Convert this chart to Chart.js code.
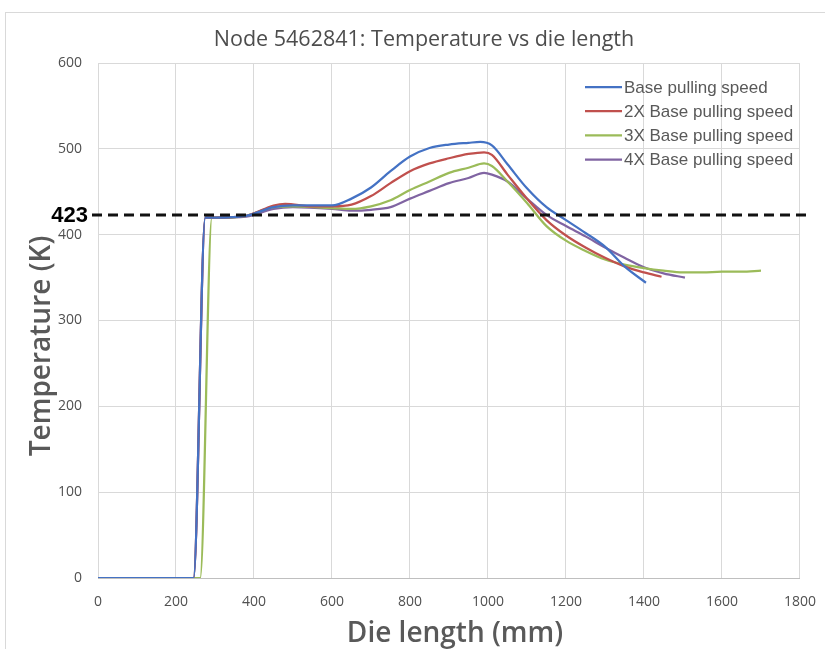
<!DOCTYPE html>
<html lang="en">
<head>
    <meta charset="UTF-8">
    <title>Node 5462841: Temperature vs die length</title>
    <script src="https://cdn.jsdelivr.net/npm/chart.js"></script>
    <style>
        body {
            margin: 0;
            background: #ffffff;
        }
        .frame {
            position: absolute;
            left: 5px;
            top: 12px;
            width: 840px;
            height: 660px;
            border: 1px solid #d9d9d9;
        }
        #tempChart {
            position: absolute;
            left: 0;
            top: 0;
        }
    </style>
</head>
<body>
    <div class="frame"></div>
    <canvas id="tempChart" width="825" height="649"></canvas>
    <script>
        // die length (mm) / temperature (K)
        var baseX = [0, 245, 275, 300, 380, 450, 500, 600, 650, 700, 750, 800, 850, 900, 950, 980, 1010, 1050, 1100, 1150, 1200, 1250, 1300, 1350, 1405];
        var baseY = [0, 0, 420, 420, 422, 432, 434, 434, 442, 455, 474, 491, 501, 505, 507, 508, 504, 482, 454, 432, 417, 402, 386, 363, 344];

        var x2X = [0, 245, 275, 300, 380, 450, 480, 550, 600, 650, 700, 750, 800, 850, 900, 950, 990, 1010, 1050, 1100, 1150, 1200, 1250, 1300, 1350, 1400, 1445];
        var x2Y = [0, 0, 420, 420, 422, 434, 436, 433, 433, 435, 445, 460, 474, 483, 489, 494, 496, 493, 470, 442, 417, 399, 385, 373, 363, 356, 351];

        var x3X = [0, 262, 292, 320, 380, 450, 500, 600, 650, 700, 750, 800, 850, 900, 950, 990, 1010, 1050, 1100, 1150, 1200, 1250, 1300, 1350, 1400, 1450, 1500, 1550, 1600, 1650, 1700];
        var x3Y = [0, 0, 420, 420, 422, 432, 433, 431, 430, 433, 440, 452, 462, 472, 478, 483, 480, 462, 437, 410, 393, 381, 371, 365, 361, 358, 356, 356, 357, 357, 358];

        var x4X = [0, 245, 275, 300, 380, 450, 500, 600, 650, 700, 750, 800, 850, 900, 950, 990, 1010, 1050, 1100, 1150, 1200, 1250, 1300, 1350, 1400, 1450, 1505];
        var x4Y = [0, 0, 420, 420, 421, 430, 432, 430, 428, 429, 432, 442, 451, 460, 466, 472, 470, 462, 442, 423, 410, 398, 385, 373, 362, 355, 350];

        var seriesNames = ['Base pulling speed', '2X Base pulling speed', '3X Base pulling speed', '4X Base pulling speed'];
        var seriesColors = ['#4472C4', '#C0504D', '#9BBB59', '#8064A2'];
        var refTemp = 423;

        function toPoints(xs, ys) {
            return xs.map(function (x, i) { return { x: x, y: ys[i] }; });
        }

        var allSeries = [toPoints(baseX, baseY), toPoints(x2X, x2Y), toPoints(x3X, x3Y), toPoints(x4X, x4Y)];

        var datasets = allSeries.map(function (pts, i) {
            return {
                label: seriesNames[i],
                data: pts,
                borderColor: seriesColors[i],
                backgroundColor: seriesColors[i],
                borderWidth: 2.25,
                pointRadius: 0,
                fill: false,
                cubicInterpolationMode: 'monotone'
            };
        });

        // titles, dashed 423 K line and the in-plot legend
        var overlay = {
            id: 'overlay',
            afterDatasetsDraw: function (chart) {
                var ctx = chart.ctx;
                var y = chart.scales.y.getPixelForValue(refTemp);
                ctx.save();
                ctx.strokeStyle = '#111111';
                ctx.lineWidth = 3;
                ctx.setLineDash([10, 6]);
                ctx.beginPath();
                ctx.moveTo(92, y);
                ctx.lineTo(810, y);
                ctx.stroke();
                ctx.setLineDash([]);

                ctx.fillStyle = '#000000';
                ctx.font = 'bold 22px "Liberation Sans"';
                ctx.textAlign = 'right';
                ctx.textBaseline = 'middle';
                ctx.fillText(String(refTemp), 88, y + 1);

                ctx.fillStyle = '#4d4d4d';
                ctx.font = '21.5px "Open Sans"';
                ctx.textAlign = 'center';
                ctx.fillText('Node 5462841: Temperature vs die length', 424, 40);

                // axis titles
                ctx.fillStyle = '#595959';
                ctx.font = '600 28px "Open Sans"';
                ctx.fillText('Die length (mm)', 455, 634);
                ctx.save();
                ctx.translate(42, 346);
                ctx.rotate(-Math.PI / 2);
                ctx.fillText('Temperature (K)', 0, 0);
                ctx.restore();

                ctx.font = '17px "Liberation Sans"';
                ctx.textAlign = 'left';
                chart.data.datasets.forEach(function (ds, i) {
                    var ly = 87 + i * 24.2;
                    ctx.strokeStyle = ds.borderColor;
                    ctx.lineWidth = 2.25;
                    ctx.beginPath();
                    ctx.moveTo(585, ly);
                    ctx.lineTo(622, ly);
                    ctx.stroke();
                    ctx.fillStyle = '#595959';
                    ctx.fillText(ds.label, 624, ly + 1);
                });
                ctx.restore();
            }
        };

        var chart = new Chart(document.getElementById('tempChart'), {
            type: 'line',
            data: { datasets: datasets },
            options: {
                responsive: false,
                animation: false,
                layout: { padding: { top: 63, right: 9, bottom: 0, left: 0 } },
                plugins: {
                    legend: { display: false },
                    tooltip: { enabled: false }
                },
                scales: {
                    x: {
                        type: 'linear',
                        min: 0,
                        max: 1800,
                        ticks: {
                            stepSize: 200,
                            color: '#505050',
                            padding: 9,
                            font: { family: 'Open Sans', size: 14 },
                            callback: function (v) { return String(v); }
                        },
                        grid: { color: '#d9d9d9', drawTicks: true, tickLength: 7, tickColor: 'rgba(0,0,0,0)' },
                        border: { color: '#bfbfbf' },
                        afterFit: function (s) { s.height = 71; }
                    },
                    y: {
                        min: 0,
                        max: 600,
                        ticks: { stepSize: 100, color: '#505050', padding: 16, font: { family: 'Open Sans', size: 14 } },
                        grid: { color: '#d9d9d9', drawTicks: false },
                        border: { display: false },
                        afterFit: function (s) { s.width = 98; }
                    }
                }
            },
            plugins: [overlay]
        });
    </script>
</body>
</html>
